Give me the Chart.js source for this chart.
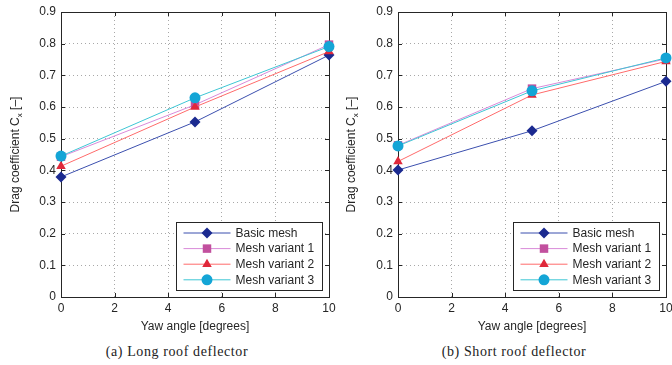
<!DOCTYPE html>
<html>
<head>
<meta charset="utf-8">
<script src="https://cdn.jsdelivr.net/npm/chart.js@4.4.1/dist/chart.umd.min.js"></script>
<style>
  body { margin: 0; background: #fff; }
  .wrap { position: relative; width: 672px; height: 365px; }
  .panel { position: absolute; top: 0; width: 336px; height: 340px; }
  .caption { position: absolute; top: 344px; font-family: "Liberation Serif", "DejaVu Serif", serif;
    font-size: 14px; letter-spacing: 0.6px; color: #222; transform: translateX(-50%); white-space: nowrap; }
</style>
</head>
<body>
<div class="wrap">
  <div class="panel" style="left:0"><canvas id="chartLong"></canvas></div>
  <div class="panel" style="left:336px"><canvas id="chartShort"></canvas></div>
  <div class="caption" style="left:177px">(a) Long roof deflector</div>
  <div class="caption" style="left:514px">(b) Short roof deflector</div>
</div>
<script>
// yaw angles in degrees
let yawAngles = [0, 5, 10];
let seriesNames = ['Basic mesh', 'Mesh variant 1', 'Mesh variant 2', 'Mesh variant 3'];

// drag coefficient, long roof deflector
let longBasic = [0.379, 0.553, 0.764];
let longVar1 = [0.443, 0.607, 0.797];
let longVar2 = [0.413, 0.600, 0.775];
let longVar3 = [0.445, 0.629, 0.791];

// drag coefficient, short roof deflector
let shortBasic = [0.401, 0.525, 0.681];
let shortVar1 = [0.479, 0.658, 0.752];
let shortVar2 = [0.428, 0.638, 0.744];
let shortVar3 = [0.477, 0.651, 0.755];

let xTicks = [0, 2, 4, 6, 8, 10];
let yTicks = [0, 0.1, 0.2, 0.3, 0.4, 0.5, 0.6, 0.7, 0.8, 0.9];

let lineColors = ['#3b4fae', '#d98ad9', '#ff6b6b', '#3ec6d4'];
let markerColors = ['#1b2a90', '#c2509e', '#e0283a', '#14a5d6'];
let markerStyles = ['rectRot', 'rect', 'triangle', 'circle'];
let markerSizes = [5.5, 6, 5.5, 5.5];

const tickFont = { family: 'Liberation Sans, Arial, sans-serif', size: 12 };
const inkColor = '#262626';

function makeDatasets(values) {
  return values.map((vals, i) => ({
    label: seriesNames[i],
    data: vals.map((v, j) => ({ x: yawAngles[j], y: v })),
    borderColor: lineColors[i],
    borderWidth: 1,
    backgroundColor: markerColors[i],
    pointStyle: markerStyles[i],
    pointRadius: markerSizes[i],
    pointBackgroundColor: markerColors[i],
    pointBorderColor: markerColors[i],
    pointBorderWidth: 0,
    tension: 0,
    clip: false,
    order: 4 - i
  }));
}

// box, inward ticks, y title with subscript and legend inside the axes
const matlabAxes = {
  id: 'matlabAxes',
  beforeDatasetsDraw(chart) {
    const ctx = chart.ctx;
    const a = chart.chartArea;
    const xs = chart.scales.x, ys = chart.scales.y;
    ctx.save();
    ctx.strokeStyle = inkColor;
    ctx.lineWidth = 1;
    ctx.strokeRect(Math.round(a.left) + 0.5, Math.round(a.top) + 0.5,
      Math.round(a.right - a.left), Math.round(a.bottom - a.top));
    ctx.beginPath();
    xTicks.forEach(t => {
      const px = Math.round(xs.getPixelForValue(t)) + 0.5;
      ctx.moveTo(px, a.bottom); ctx.lineTo(px, a.bottom - 4);
      ctx.moveTo(px, a.top); ctx.lineTo(px, a.top + 4);
    });
    yTicks.forEach(t => {
      const py = Math.round(ys.getPixelForValue(t)) + 0.5;
      ctx.moveTo(a.left, py); ctx.lineTo(a.left + 4, py);
      ctx.moveTo(a.right, py); ctx.lineTo(a.right - 4, py);
    });
    ctx.stroke();

    // y axis title: Drag coefficient C_x [–]
    ctx.translate(16, (a.top + a.bottom) / 2);
    ctx.rotate(-Math.PI / 2);
    ctx.fillStyle = inkColor;
    ctx.textBaseline = 'middle';
    const big = '12px Liberation Sans, Arial, sans-serif';
    const small = '8px Liberation Sans, Arial, sans-serif';
    const p1 = 'Drag coefficient C', p2 = 'x', p3 = ' [\u2013]';
    ctx.font = big;
    const w1 = ctx.measureText(p1).width, w3 = ctx.measureText(p3).width;
    ctx.font = small;
    const w2 = ctx.measureText(p2).width;
    let x0 = -(w1 + w2 + w3) / 2;
    ctx.font = big; ctx.fillText(p1, x0, 0);
    ctx.font = small; ctx.fillText(p2, x0 + w1, 4);
    ctx.font = big; ctx.fillText(p3, x0 + w1 + w2, 0);
    ctx.restore();
  },
  afterDraw(chart) {
    const ctx = chart.ctx;
    const a = chart.chartArea;
    const left = Math.round(a.right - 153) + 0.5, right = Math.round(a.right - 7) + 0.5;
    const top = Math.round(a.bottom - 75) + 0.5, bottom = Math.round(a.bottom - 7) + 0.5;
    ctx.save();
    ctx.fillStyle = '#fff';
    ctx.fillRect(left, top, right - left, bottom - top);
    ctx.strokeStyle = inkColor;
    ctx.lineWidth = 1;
    ctx.strokeRect(left, top, right - left, bottom - top);
    ctx.font = '12px Liberation Sans, Arial, sans-serif';
    ctx.textBaseline = 'middle';
    chart.data.datasets.forEach((ds, i) => {
      const y = top + 10.5 + i * 15.6;
      ctx.strokeStyle = ds.borderColor;
      ctx.lineWidth = 1;
      ctx.beginPath();
      ctx.moveTo(left + 7, y); ctx.lineTo(left + 54, y);
      ctx.stroke();
      ctx.fillStyle = ds.pointBackgroundColor;
      Chart.helpers.drawPoint(ctx, { pointStyle: ds.pointStyle, radius: ds.pointRadius, rotation: 0, borderWidth: 0 }, left + 30.5, y);
      ctx.fillStyle = inkColor;
      ctx.fillText(ds.label, left + 59, y + 0.5);
    });
    ctx.restore();
  }
};

function makeChart(id, values, yWidth, rightPad) {
  const ctx = document.getElementById(id);
  const config = {
    type: 'line',
    data: { datasets: makeDatasets(values) },
    options: {
      responsive: true,
      maintainAspectRatio: false,
      animation: false,
      layout: { padding: { top: 12, right: rightPad, left: 0, bottom: 0 } },
      plugins: { legend: { display: false }, tooltip: { enabled: false } },
      scales: {
        x: {
          type: 'linear', min: 0, max: 10,
          afterFit: s => { s.height = 43; s.paddingLeft = 0; s.paddingRight = 0; },
          afterBuildTicks: s => { s.ticks = xTicks.map(v => ({ value: v })); },
          ticks: { font: tickFont, color: inkColor, padding: 4, maxRotation: 0 },
          grid: { color: '#a8a8a8', drawTicks: false, lineWidth: 1 },
          border: { display: false, dash: [1, 3] },
          title: { display: true, text: 'Yaw angle [degrees]', font: tickFont, color: inkColor, padding: { bottom: 6, top: 0 } }
        },
        y: {
          type: 'linear', min: 0, max: 0.9,
          afterFit: s => { s.width = yWidth; s.paddingTop = 0; s.paddingBottom = 0; },
          afterBuildTicks: s => { s.ticks = yTicks.map(v => ({ value: v })); },
          ticks: { font: tickFont, color: inkColor, padding: 5, callback: v => String(+v.toFixed(1)) },
          grid: { color: '#a8a8a8', drawTicks: false, lineWidth: 1 },
          border: { display: false, dash: [1, 3] }
        }
      }
    },
    plugins: [matlabAxes]
  };
  return new Chart(ctx, config);
}

makeChart('chartLong', [longBasic, longVar1, longVar2, longVar3], 61, 7);
makeChart('chartShort', [shortBasic, shortVar1, shortVar2, shortVar3], 62, 6);
</script>
</body>
</html>
